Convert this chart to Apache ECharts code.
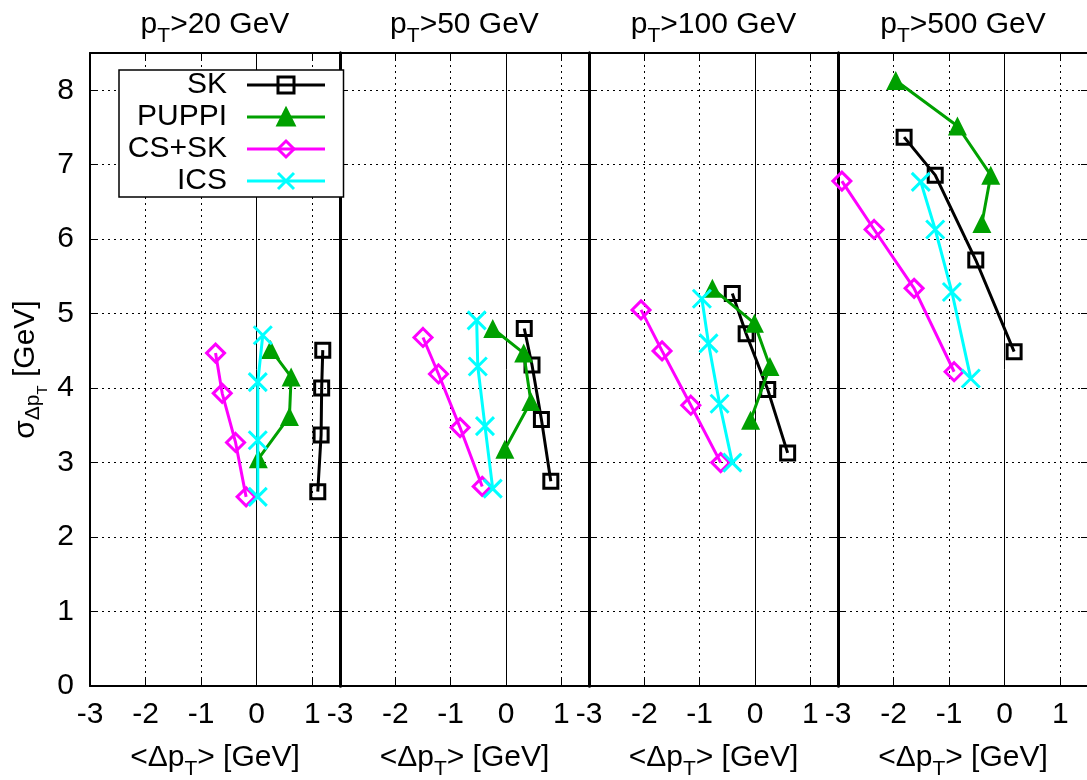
<!DOCTYPE html>
<html>
<head>
<meta charset="utf-8">
<script src="https://cdn.jsdelivr.net/npm/echarts@6/dist/echarts.min.js"></script>
<style>
html, body { margin: 0; padding: 0; background: #fff; }
#chart { width: 1087px; height: 780px; }
</style>
</head>
<body>
<div id="chart"></div>
<script>
// values, [<dpT>, sigma] per point
var methods = ['SK', 'PUPPI', 'CS+SK', 'ICS'];
var thresholds = ['20', '50', '100', '500'];

var sk20 = [[1.19, 4.51], [1.17, 4.00], [1.16, 3.37], [1.10, 2.61]];
var sk50 = [[0.33, 4.80], [0.47, 4.31], [0.64, 3.58], [0.81, 2.75]];
var sk100 = [[-0.41, 5.27], [-0.16, 4.73], [0.23, 3.98], [0.59, 3.13]];
var sk500 = [[-1.81, 7.37], [-1.25, 6.86], [-0.52, 5.72], [0.17, 4.49]];

var puppi20 = [[0.25, 4.52], [0.62, 4.15], [0.59, 3.62], [0.03, 3.05]];
var puppi50 = [[-0.24, 4.80], [0.32, 4.47], [0.45, 3.82], [-0.02, 3.18]];
var puppi100 = [[-0.77, 5.34], [-0.01, 4.87], [0.27, 4.29], [-0.08, 3.57]];
var puppi500 = [[-1.96, 8.13], [-0.85, 7.52], [-0.25, 6.86], [-0.41, 6.21]];

var cssk20 = [[-0.74, 4.47], [-0.62, 3.93], [-0.38, 3.27], [-0.19, 2.54]];
var cssk50 = [[-1.50, 4.68], [-1.22, 4.19], [-0.83, 3.47], [-0.43, 2.68]];
var cssk100 = [[-2.06, 5.05], [-1.68, 4.50], [-1.16, 3.77], [-0.62, 3.00]];
var cssk500 = [[-2.93, 6.78], [-2.35, 6.13], [-1.63, 5.34], [-0.91, 4.22]];

var ics20 = [[0.11, 4.71], [0.02, 4.08], [0.02, 3.30], [0.02, 2.54]];
var ics50 = [[-0.53, 4.91], [-0.51, 4.29], [-0.38, 3.49], [-0.24, 2.65]];
var ics100 = [[-0.96, 5.20], [-0.84, 4.60], [-0.64, 3.79], [-0.41, 3.00]];
var ics500 = [[-1.51, 6.77], [-1.25, 6.13], [-0.95, 5.29], [-0.61, 4.13]];

var panelData = {
    'SK': [sk20, sk50, sk100, sk500],
    'PUPPI': [puppi20, puppi50, puppi100, puppi500],
    'CS+SK': [cssk20, cssk50, cssk100, cssk500],
    'ICS': [ics20, ics50, ics100, ics500]
};

var font = '"Liberation Sans", Arial, Helvetica, sans-serif';

var looks = {
    'SK': { color: '#000000', symbol: 'rect', size: 14, fill: 'transparent', border: 3 },
    'PUPPI': { color: '#00a000', symbol: 'triangle', size: 19, fill: '#00a000', border: 0 },
    'CS+SK': { color: '#ff00ff', symbol: 'diamond', size: 18, fill: 'transparent', border: 3 },
    'ICS': { color: '#00ffff', symbol: 'path://M0,0L10,10M10,0L0,10', size: 18, fill: 'transparent', border: 3 }
};

var gridLeft = [90, 340, 589, 838];
var gridWidth = [250, 249, 249, 250];

var richMain = { fontSize: 30, fontFamily: font, color: '#000', lineHeight: 44, verticalAlign: 'middle' };
var richSub = { fontSize: 21, fontFamily: font, color: '#000', lineHeight: 21, verticalAlign: 'bottom' };

function intLabel(v) {
    return Math.abs(v - Math.round(v)) < 1e-9 ? String(Math.round(v)) : '';
}

var grids = [], xAxes = [], yAxes = [], series = [];

for (var i = 0; i < 4; i++) {
    grids.push({
        left: gridLeft[i], width: gridWidth[i], top: 53, height: 633,
        show: false, outerBoundsMode: 'none'
    });

    xAxes.push({
        gridIndex: i, type: 'value', position: 'bottom',
        min: -3, max: 1.5, interval: 1,
        axisLine: { show: true, onZero: false, lineStyle: { color: '#000', width: 2 } },
        axisTick: { show: true, inside: true, length: 7, lineStyle: { color: '#000', width: 1 } },
        axisLabel: {
            margin: 14, fontSize: 30, fontFamily: font, color: '#000',
            showMaxLabel: false, formatter: intLabel
        },
        splitLine: { show: true, lineStyle: { color: '#000', width: 1, type: [2, 4] } },
        name: '{a|<Δp}{s|T}{a|> [GeV]}',
        nameLocation: 'middle', nameGap: 50,
        nameTextStyle: { rich: { a: richMain, s: richSub } }
    });
    xAxes.push({
        gridIndex: i, type: 'value', position: 'top',
        min: -3, max: 1.5, interval: 1,
        axisLine: { show: true, onZero: false, lineStyle: { color: '#000', width: 2 } },
        axisTick: { show: true, inside: true, length: 7, lineStyle: { color: '#000', width: 1 } },
        axisLabel: { show: false },
        splitLine: { show: false },
        name: '{a|p}{s|T}{a|>' + thresholds[i] + ' GeV}',
        nameLocation: 'middle', nameGap: 6,
        nameTextStyle: { rich: { a: richMain, s: richSub } }
    });

    var leftY = {
        gridIndex: i, type: 'value', position: 'left',
        min: 0, max: 8.5, interval: 1,
        axisLine: { show: true, onZero: false, lineStyle: { color: '#000', width: i === 0 ? 2 : 3 } },
        axisTick: { show: true, inside: true, length: 7, lineStyle: { color: '#000', width: 1 } },
        axisLabel: {
            show: i === 0, margin: 16, fontSize: 30, fontFamily: font, color: '#000',
            showMaxLabel: false, formatter: intLabel
        },
        splitLine: { show: true, lineStyle: { color: '#000', width: 1, type: [2, 4] } }
    };
    if (i === 0) {
        leftY.name = '{a|σ}{b|Δp}{c|T}{a| [GeV]}';
        leftY.nameLocation = 'middle';
        leftY.nameRotate = 90;
        leftY.nameGap = 40;
        leftY.nameTextStyle = {
            rich: {
                a: { fontSize: 30, fontFamily: font, color: '#000', lineHeight: 48, verticalAlign: 'middle' },
                b: { fontSize: 21, fontFamily: font, color: '#000', lineHeight: 21, verticalAlign: 'bottom', padding: [0, 0, 6, 0] },
                c: { fontSize: 15, fontFamily: font, color: '#000', lineHeight: 15, verticalAlign: 'bottom' }
            }
        };
    }
    yAxes.push(leftY);
    yAxes.push({
        gridIndex: i, type: 'value', position: 'right',
        min: 0, max: 8.5, interval: 1,
        axisLine: { show: true, onZero: false, lineStyle: { color: '#000', width: 3 } },
        axisTick: { show: true, inside: true, length: 7, lineStyle: { color: '#000', width: 1 } },
        axisLabel: { show: false },
        splitLine: { show: false }
    });

    methods.forEach(function(m, k) {
        var lk = looks[m];
        var s = {
            name: m, type: 'line',
            xAxisIndex: 2 * i, yAxisIndex: 2 * i,
            data: panelData[m][i],
            symbol: lk.symbol, symbolSize: lk.size,
            showAllSymbol: true, clip: false,
            lineStyle: { color: lk.color, width: 3 },
            itemStyle: { color: lk.fill, borderColor: lk.color, borderWidth: lk.border },
            emphasis: { disabled: true },
            z: 3 + k
        };
        if (k === 0) {
            s.markLine = {
                silent: true, symbol: ['none', 'none'],
                label: { show: false },
                lineStyle: { color: '#000', width: 1, type: 'solid' },
                data: [{ xAxis: 0 }],
                z: 1
            };
        }
        series.push(s);
    });
}

var chart = echarts.init(document.getElementById('chart'));
chart.setOption({
    animation: false,
    backgroundColor: '#fff',
    textStyle: { fontFamily: font },
    grid: grids,
    xAxis: xAxes,
    yAxis: yAxes,
    legend: {
        orient: 'vertical', left: 119, top: 70, align: 'right',
        itemWidth: 78, itemHeight: 20, itemGap: 2,
        padding: [0, 17, 1, 6],
        backgroundColor: '#fff', borderColor: '#000', borderWidth: 1.5,
        selectedMode: false,
        data: methods,
        formatter: function(n) { return '{t|' + n + '}'; },
        textStyle: {
            fontSize: 30, fontFamily: font, color: '#000',
            rich: { t: { fontSize: 30, fontFamily: font, color: '#000', width: 102, align: 'right', padding: [0, 15, 0, 0], lineHeight: 30 } }
        },
        lineStyle: { width: 3 },
        itemStyle: { borderWidth: 3 },
        z: 10
    },
    series: series
});
</script>
</body>
</html>
